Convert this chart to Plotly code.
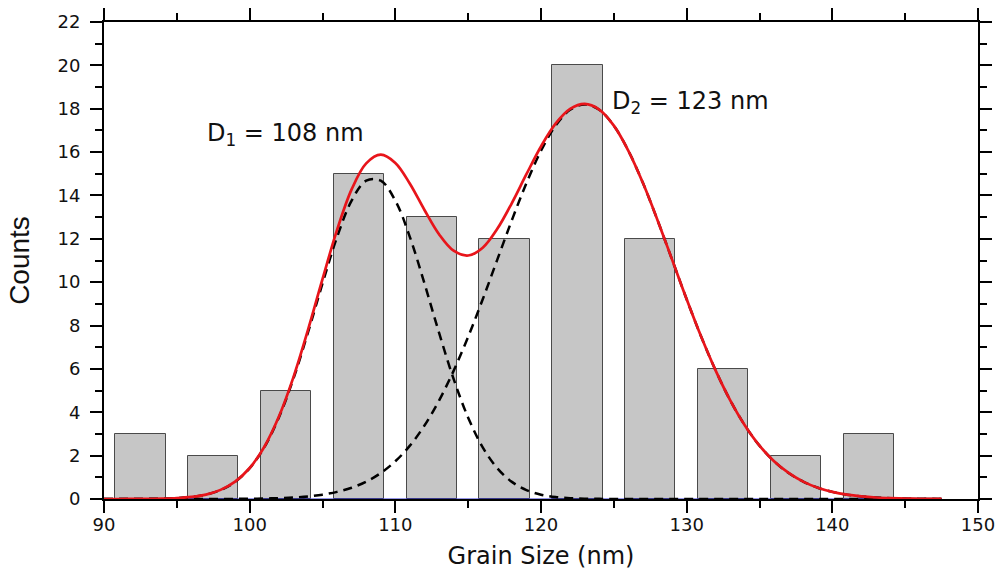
import plotly.graph_objects as go

# Histogram data
bin_centers = [92.5, 97.5, 102.5, 107.5, 112.5, 117.5, 122.5, 127.5, 132.5, 137.5, 142.5]
counts = [3, 2, 5, 15, 13, 12, 20, 12, 6, 2, 3]

fit_x = [90, 91, 92, 93, 94, 95, 96, 97, 98, 99, 100, 101, 102, 103, 104, 105, 106, 107, 108, 109,
         110, 111, 112, 113, 114, 115, 116, 117, 118, 119, 120, 121, 122, 123, 124, 125, 126, 127, 128, 129,
         130, 131, 132, 133, 134, 135, 136, 137, 138, 139, 140, 141, 142, 143, 144, 145, 146, 147, 147.5]
peak1 = [0.0, 0.001, 0.002, 0.006, 0.016, 0.04, 0.093, 0.20, 0.41, 0.79, 1.42, 2.38, 3.75, 5.54, 7.67, 9.94, 12.08, 13.76, 14.68, 14.68,
         13.76, 12.08, 9.94, 7.67, 5.54, 3.75, 2.38, 1.42, 0.79, 0.41, 0.20, 0.09, 0.04, 0.016, 0.006, 0.002, 0.0, 0.0, 0.0, 0.0,
         0.0, 0.0, 0.0, 0.0, 0.0, 0.0, 0.0, 0.0, 0.0, 0.0, 0.0, 0.0, 0.0, 0.0, 0.0, 0.0, 0.0, 0.0, 0.0]
peak2 = [0.0, 0.0, 0.0, 0.0, 0.0, 0.0, 0.001, 0.001, 0.003, 0.006, 0.012, 0.022, 0.04, 0.07, 0.12, 0.20, 0.33, 0.52, 0.80, 1.20,
         1.74, 2.46, 3.39, 4.54, 5.91, 7.48, 9.21, 11.04, 12.86, 14.57, 16.06, 17.22, 17.95, 18.2, 17.95, 17.22, 16.06, 14.57, 12.86, 11.04,
         9.21, 7.48, 5.91, 4.54, 3.39, 2.46, 1.74, 1.20, 0.80, 0.52, 0.33, 0.20, 0.12, 0.07, 0.04, 0.02, 0.01, 0.006, 0.004]
total_fit = [0.0, 0.001, 0.002, 0.006, 0.016, 0.04, 0.094, 0.20, 0.42, 0.80, 1.43, 2.40, 3.79, 5.61, 7.79, 10.14, 12.41, 14.28, 15.48, 15.88,
             15.50, 14.54, 13.33, 12.21, 11.45, 11.23, 11.59, 12.46, 13.65, 14.98, 16.26, 17.31, 17.99, 18.22, 17.96, 17.22, 16.06, 14.57, 12.86, 11.04,
             9.21, 7.48, 5.91, 4.54, 3.39, 2.46, 1.74, 1.20, 0.80, 0.52, 0.33, 0.20, 0.12, 0.07, 0.04, 0.02, 0.01, 0.006, 0.004]

x_ticks = [90, 100, 110, 120, 130, 140, 150]
y_ticks = [0, 2, 4, 6, 8, 10, 12, 14, 16, 18, 20, 22]

FONT = "DejaVu Sans"

fig = go.Figure()
fig.add_trace(go.Bar(
    x=bin_centers, y=counts, width=3.45,
    marker=dict(color="#c6c6c6", line=dict(color="#4a4a4a", width=1)),
    showlegend=False,
))
fig.add_trace(go.Scatter(
    x=fit_x, y=[0] * len(fit_x), mode="lines",
    line=dict(color="#2b2bd0", width=1), showlegend=False,
))
fig.add_trace(go.Scatter(
    x=fit_x, y=peak1, mode="lines", line_shape="spline",
    line=dict(color="black", width=2.5, dash="9px,6px"), showlegend=False,
))
fig.add_trace(go.Scatter(
    x=fit_x, y=peak2, mode="lines", line_shape="spline",
    line=dict(color="black", width=2.5, dash="9px,6px"), showlegend=False,
))
fig.add_trace(go.Scatter(
    x=fit_x, y=total_fit, mode="lines", line_shape="spline",
    line=dict(color="#e8151b", width=2.7), showlegend=False,
))

fig.add_annotation(x=96.9, y=16.8, xanchor="left", yanchor="middle", showarrow=False,
                   text="D<sub>1</sub> = 108 nm", font=dict(family=FONT, size=24, color="#111"))
fig.add_annotation(x=124.75, y=18.3, xanchor="left", yanchor="middle", showarrow=False,
                   text="D<sub>2</sub> = 123 nm", font=dict(family=FONT, size=24, color="#111"))

axis_common = dict(
    showline=True, linecolor="black", linewidth=2, mirror="allticks",
    ticks="outside", ticklen=12, tickwidth=2, tickcolor="black",
    showgrid=False, zeroline=False, automargin=False,
    tickfont=dict(family=FONT, size=18, color="#111"),
)
fig.update_xaxes(
    range=[90, 150], tickvals=x_ticks, ticklabelstandoff=-4,
    minor=dict(dtick=5, ticks="outside", ticklen=7, tickwidth=2, tickcolor="black", tick0=90),
    title=dict(text="Grain Size (nm)", font=dict(family=FONT, size=24, color="#111"), standoff=20),
    **axis_common,
)
fig.update_yaxes(
    range=[0, 22], tickvals=y_ticks, ticklabelstandoff=6,
    minor=dict(dtick=1, ticks="outside", ticklen=7, tickwidth=2, tickcolor="black", tick0=0),
    title=dict(text="Counts", font=dict(family="Liberation Sans", size=28, color="#111"), standoff=20),
    **axis_common,
)
fig.update_layout(
    width=1000, height=570,
    margin=dict(l=104, r=22, t=22, b=71),
    plot_bgcolor="white", paper_bgcolor="white",
    bargap=0,
)
fig.write_html("out.html", config={"displayModeBar": False},
               post_script="document.body.style.margin='0';document.body.style.overflow='hidden';")
